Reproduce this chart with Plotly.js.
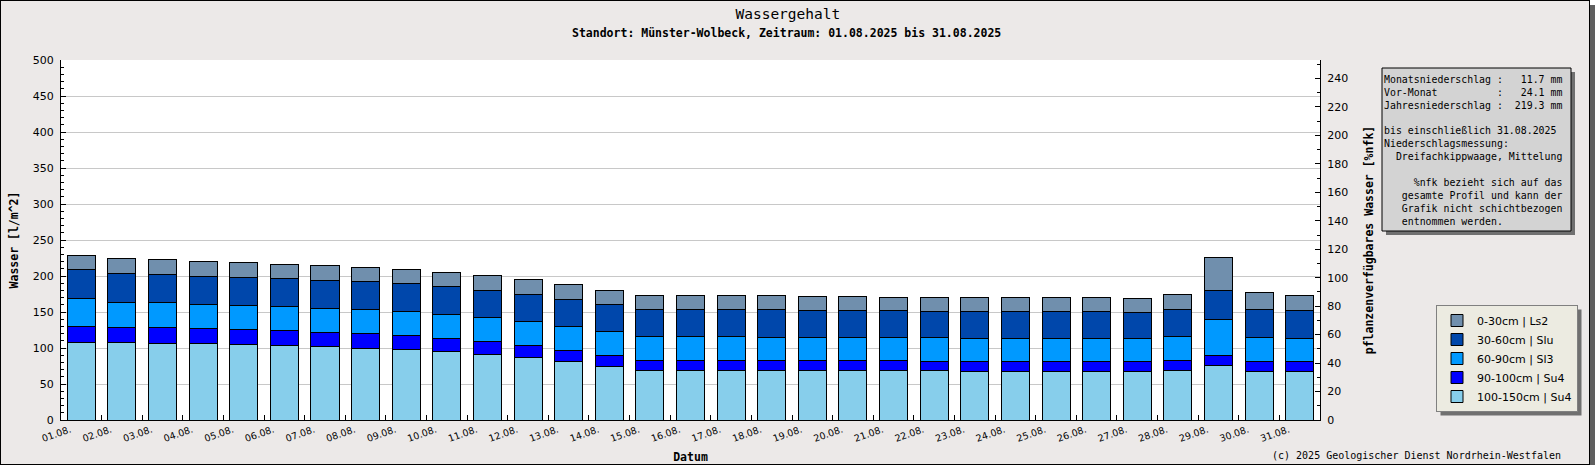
<!DOCTYPE html>
<html><head><meta charset="utf-8">
<script src="https://cdn.plot.ly/plotly-3.0.1.min.js"></script>
<style>
html,body{margin:0;padding:0;background:#ffffff;}
#chart{width:1588px;height:463px;border:1px solid #000;box-shadow:5px 5px 0 #5f5f5f;}
</style></head><body><div id="chart"></div>
<script>
// ---- data ----
const dates = ["01.08.","02.08.","03.08.","04.08.","05.08.","06.08.","07.08.","08.08.","09.08.","10.08.",
  "11.08.","12.08.","13.08.","14.08.","15.08.","16.08.","17.08.","18.08.","19.08.","20.08.",
  "21.08.","22.08.","23.08.","24.08.","25.08.","26.08.","27.08.","28.08.","29.08.","30.08.","31.08."];
const layer100_150 = [107.6,107.6,106.2,106.2,104.8,103.4,102.0,99.2,97.8,95.0,90.9,86.7,81.1,74.2,68.6,68.6,68.6,68.6,68.6,68.6,68.6,68.6,67.2,67.2,67.2,67.2,67.2,68.6,75.6,67.2,67.2];
const layer90_100  = [22.7,21.3,22.7,21.3,21.3,21.3,19.9,21.3,20.0,18.6,18.5,17.1,15.8,15.7,14.4,14.4,14.4,14.4,14.4,14.4,14.4,13.0,14.4,14.4,14.4,14.4,14.4,14.4,14.3,14.4,14.4];
const layer60_90   = [38.5,34.8,34.8,33.4,33.4,33.4,33.4,33.4,33.3,33.4,33.4,33.4,33.4,33.4,32.9,32.9,32.9,31.5,31.5,31.5,31.5,32.9,31.5,31.5,31.5,31.5,31.5,32.9,50.1,32.9,31.5];
const layer30_60   = [40.7,40.3,38.9,38.9,38.9,38.9,38.9,39.0,39.0,38.9,37.5,37.6,37.5,37.6,38.0,38.0,38.0,39.4,38.0,38.0,38.0,36.6,38.0,38.0,38.0,38.0,36.6,38.0,40.3,39.4,39.4];
const layer0_30    = [19.5,20.8,20.9,20.9,20.9,19.5,20.9,19.4,19.4,19.5,20.9,20.8,20.9,19.4,19.5,19.5,19.5,19.5,19.5,19.5,18.1,19.5,19.5,19.5,19.5,19.5,19.5,20.9,45.9,23.7,20.9];
const layerNames = ["100-150cm | Su4","90-100cm | Su4","60-90cm | Sl3","30-60cm | Slu","0-30cm | Ls2"];
const layerColors = ["#87ceeb","#0000ff","#0099ff","#0047ab","#708fad"];
const infoLines = [
  "Monatsniederschlag :   11.7 mm",
  "Vor-Monat          :   24.1 mm",
  "Jahresniederschlag :  219.3 mm",
  "",
  "bis einschließlich 31.08.2025",
  "Niederschlagsmessung:",
  "  Dreifachkippwaage, Mittelung",
  "",
  "     %nfk bezieht sich auf das",
  "   gesamte Profil und kann der",
  "   Grafik nicht schichtbezogen",
  "   entnommen werden."
];

// ---- layout helpers (page pixel -> paper fraction) ----
const L = 60, T = 59, W = 1259, H = 360;
function fx(p){ return (p - 1 - L) / W; }
function fy(p){ return (T + H - (p - 1)) / H; }

const series = [layer100_150, layer90_100, layer60_90, layer30_60, layer0_30];
const traces = series.map((vals, i) => ({
  type: 'bar', x: dates, y: vals, name: layerNames[i],
  marker: {color: layerColors[i], line: {color: '#000', width: 1}},
  hoverinfo: 'skip'
}));
// empty carrier so that the right-hand %nfk axis is drawn
traces.push({type: 'scatter', mode: 'markers', x: dates, y: dates.map(() => null), yaxis: 'y2',
  showlegend: false, hoverinfo: 'skip'});

const mono = 'DejaVu Sans Mono';
const sans = 'DejaVu Sans';

const layout = {
  width: 1588, height: 463,
  margin: {l: L, r: 1588 - L - W, t: T, b: 463 - T - H, pad: 0, autoexpand: false},
  paper_bgcolor: '#ece9e8', plot_bgcolor: '#ffffff',
  barmode: 'stack', bargap: 0.31,
  showlegend: true,
  title: {text: 'Wassergehalt', font: {family: mono, size: 14.5, color: '#000'},
    xref: 'container', x: 0.4955, yref: 'container', y: 1 - 13/463, yanchor: 'middle'},
  xaxis: {
    type: 'category', range: [-0.5, dates.length - 0.5], autorange: false,
    tickson: 'boundaries', ticks: 'inside', ticklen: 5, tickcolor: '#000',
    tickangle: -19, tickfont: {family: sans, size: 9.5, color: '#000'}, ticklabelshift: -11,
    showline: true, linecolor: '#000', linewidth: 1, showgrid: false, zeroline: false,
    title: {text: '<b>Datum</b>', font: {family: mono, size: 11.5, color: '#000'}, standoff: 10},
    fixedrange: true
  },
  yaxis: {
    range: [0, 500], dtick: 50, tick0: 0, ticks: 'inside', ticklen: 5, tickcolor: '#000',
    minor: {ticks: 'inside', dtick: 10, tick0: 0, ticklen: 3, tickcolor: '#000', showgrid: false},
    tickfont: {family: sans, size: 11, color: '#000'}, ticklabelstandoff: 4,
    showline: true, linecolor: '#000', linewidth: 1, showgrid: true, gridcolor: '#c8c8c8', gridwidth: 1,
    zeroline: false,
    title: {text: '<b>Wasser [l/m^2]</b>', font: {family: mono, size: 11.5, color: '#000'}, standoff: 11},
    fixedrange: true
  },
  yaxis2: {
    overlaying: 'y', side: 'right', anchor: 'x',
    range: [0, 253], dtick: 20, tick0: 0, ticks: 'inside', ticklen: 5, tickcolor: '#000',
    minor: {ticks: 'inside', dtick: 10, tick0: 0, ticklen: 3, tickcolor: '#000', showgrid: false},
    tickfont: {family: sans, size: 11, color: '#000'}, ticklabelstandoff: 4,
    showline: true, linecolor: '#000', linewidth: 1, showgrid: false, zeroline: false,
    title: {text: '<b>pflanzenverfügbares Wasser [%nfk]</b>', font: {family: mono, size: 11.5, color: '#000'}, standoff: 17},
    fixedrange: true
  },
  legend: {
    x: fx(1436), y: fy(305), xanchor: 'left', yanchor: 'top', traceorder: 'reversed',
    bgcolor: '#ecebe1', bordercolor: '#808080', borderwidth: 1,
    font: {family: sans, size: 11, color: '#000'}, itemclick: false, itemdoubleclick: false
  },
  shapes: [
    // info box shadow + box
    {type: 'rect', xref: 'paper', yref: 'paper', x0: fx(1386), x1: fx(1575), y0: fy(235), y1: fy(72),
      fillcolor: '#707070', line: {width: 0}, layer: 'below'},
    {type: 'rect', xref: 'paper', yref: 'paper', x0: fx(1382), x1: fx(1571), y0: fy(231), y1: fy(68),
      fillcolor: '#d3d3d3', line: {color: '#000', width: 1}, layer: 'below'},
    // legend shadow (resized to the drawn legend after rendering)
    {type: 'rect', xref: 'paper', yref: 'paper', x0: fx(1440), x1: fx(1574), y0: fy(403), y1: fy(309),
      fillcolor: '#707070', line: {width: 0}, layer: 'below'}
  ],
  annotations: [
    {text: '<b>Standort: Münster-Wolbeck, Zeitraum: 01.08.2025 bis 31.08.2025</b>', xref: 'paper', yref: 'paper',
      x: fx(786), y: fy(33), xanchor: 'center', yanchor: 'middle', showarrow: false,
      font: {family: mono, size: 11.5, color: '#000'}},
    {text: infoLines.map(s => s.replace(/ /g, '\u00a0')).join('<br>'), xref: 'paper', yref: 'paper',
      x: fx(1383), y: fy(150.5), xanchor: 'left', yanchor: 'middle', align: 'left', showarrow: false,
      borderpad: 0, font: {family: mono, size: 9.9, color: '#000'}},
    {text: '(c) 2025 Geologischer Dienst Nordrhein-Westfalen', xref: 'paper', yref: 'paper',
      x: fx(1563), y: fy(455), xanchor: 'right', yanchor: 'middle', showarrow: false,
      font: {family: mono, size: 10, color: '#000'}}
  ]
};

const gd = document.getElementById('chart');
Plotly.newPlot(gd, traces, layout, {staticPlot: true, displayModeBar: false}).then(() => {
  const bg = gd.querySelector('.legend .bg');
  if (!bg) return;
  const r = bg.getBoundingClientRect();
  const off = 4;
  return Plotly.relayout(gd, {
    'shapes[2].x0': fx(r.left + off), 'shapes[2].x1': fx(r.right + off),
    'shapes[2].y0': fy(r.bottom + off), 'shapes[2].y1': fy(r.top + off)
  });
});
</script></body></html>
